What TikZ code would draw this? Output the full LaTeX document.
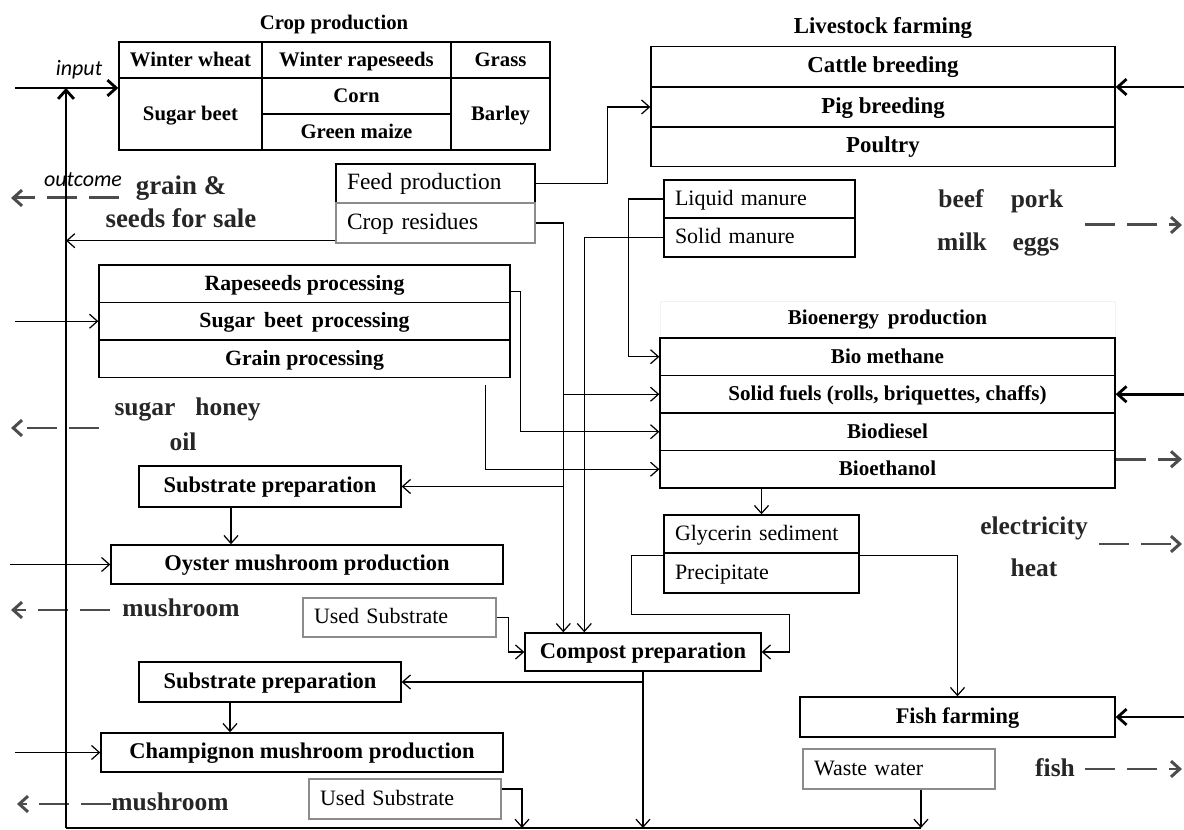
\documentclass[tikz,border=0pt]{standalone}
\usepackage{fontspec}
\setmainfont{Liberation Serif}
\newfontfamily\calibfont{Carlito}
\usepackage{tikz}
\usetikzlibrary{arrows.meta,positioning,calc}
\tikzstyle{cell} = [rectangle, draw=black, line width=0.8pt, inner sep=0pt, text height=0.76em, text depth=0.04em, text centered, font=\bfseries\fontsize{12.8}{15}\selectfont]
\tikzstyle{cropcell} = [cell, font=\bfseries\fontsize{11.8}{14}\selectfont, minimum height=0.72cm]
\tikzstyle{livecell} = [cell, font=\bfseries\fontsize{13}{15}\selectfont, minimum width=9.28cm, minimum height=0.8cm]
\tikzstyle{proccell} = [cell, font=\bfseries\fontsize{12.4}{14}\selectfont, minimum width=8.22cm, minimum height=0.75cm]
\tikzstyle{biocell} = [cell, font=\bfseries\fontsize{12}{14}\selectfont, minimum width=9.1cm, minimum height=0.75cm]
\tikzstyle{subbox} = [rectangle, draw=black, line width=0.8pt, inner ysep=0pt, inner xsep=0.22cm, text height=0.76em, text depth=0.04em, align=left, font=\fontsize{12.5}{15}\selectfont]
\tikzstyle{greybox} = [subbox, draw=black!45]
\tikzstyle{headlbl} = [font=\bfseries\fontsize{11.8}{14}\selectfont]
\tikzstyle{prod} = [anchor=base, text=black!85, font=\bfseries\fontsize{14.5}{16}\selectfont, inner sep=0pt]
\tikzstyle{itl} = [font=\calibfont\itshape\fontsize{12.5}{14}\selectfont, inner sep=0pt]
\tikzstyle{arrow} = [line width=0.7pt, -{Straight Barb[length=4.5pt,width=8pt]}]
\tikzstyle{thickline} = [line width=1.6pt]
\tikzstyle{thickarrow} = [line width=1.6pt, -{Straight Barb[length=5pt,width=9pt]}]
\tikzstyle{outarrow} = [line width=1.7pt, draw=black!70, dash pattern=on 17pt off 7pt, -{Straight Barb[length=5pt,width=9pt]}]

\begin{document}
\begin{tikzpicture}[x=0.02cm, y=-0.02cm]
	\useasboundingbox (0,0) rectangle (1184,830);

	\node (croptitle) [headlbl] at (334,25) {Crop production};
	\node (wheat) [cropcell, minimum width=2.86cm] at (190.5,60) {Winter wheat};
	\node (rapes) [cropcell, minimum width=3.78cm] at (356.5,60) {Winter rapeseeds};
	\node (grass) [cropcell, minimum width=1.98cm] at (500.5,60) {Grass};
	\node (sb) [cropcell, minimum width=2.86cm, minimum height=1.44cm] at (190.5,114) {Sugar beet};
	\node (corn) [cropcell, minimum width=3.78cm] at (356.5,96) {Corn};
	\node (gm) [cropcell, minimum width=3.78cm] at (356.5,132) {Green maize};
	\node (barley) [cropcell, minimum width=1.98cm, minimum height=1.44cm] at (500.5,114) {Barley};

	\node (livetitle) [headlbl, font=\bfseries\fontsize{13}{15}\selectfont] at (883,28) {Livestock farming};
	\node (cattle) [livecell] at (883,66.5) {Cattle breeding};
	\node (pig) [livecell] at (883,107) {Pig breeding};
	\node (poultry) [livecell] at (883,146.5) {Poultry};

	\node (feed) [subbox, font=\fontsize{13.3}{15}\selectfont, text width=3.54cm, minimum height=0.78cm] at (435.5,183.5) {Feed production};
	\node (res) [greybox, font=\fontsize{13.3}{15}\selectfont, text width=3.54cm, minimum height=0.8cm] at (435.5,223) {Crop residues};
	\node (liq) [subbox, text width=3.38cm, minimum height=0.76cm] at (759.5,199) {Liquid manure};
	\node (solm) [subbox, text width=3.38cm, minimum height=0.78cm] at (759.5,237.5) {Solid manure};

	\node (rape) [proccell] at (304.5,283.75) {Rapeseeds processing};
	\node (sugp) [proccell] at (304.5,321.25) {Sugar\, beet\, processing};
	\node (grain) [proccell] at (304.5,358.75) {Grain processing};

	\node (biotitle) [headlbl, draw=black!5, minimum width=9.1cm, minimum height=0.74cm, font=\bfseries\fontsize{12}{14}\selectfont] at (887.5,319.5) {Bioenergy\, production};
	\node (meth) [biocell] at (887.5,356.75) {Bio methane};
	\node (fuel) [biocell] at (887.5,394.25) {Solid fuels (rolls, briquettes, chaffs)};
	\node (diesel) [biocell] at (887.5,431.75) {Biodiesel};
	\node (eth) [biocell] at (887.5,469.25) {Bioethanol};

	\node (gly) [subbox, text width=3.46cm, minimum height=0.76cm] at (761.5,534) {Glycerin sediment};
	\node (prec) [subbox, text width=3.46cm, minimum height=0.8cm] at (761.5,573) {Precipitate};

	\node (sub1) [cell, minimum width=5.24cm, minimum height=0.82cm] at (270,486.5) {Substrate preparation};
	\node (oyster) [cell, minimum width=7.84cm, minimum height=0.78cm] at (307,564.5) {Oyster mushroom production};
	\node (us1) [greybox, text width=3.42cm, minimum height=0.78cm] at (399.5,617.5) {Used Substrate};
	\node (comp) [cell, minimum width=4.72cm, minimum height=0.76cm] at (643,652) {Compost preparation};
	\node (sub2) [cell, minimum width=5.24cm, minimum height=0.8cm] at (270,682) {Substrate preparation};
	\node (champ) [cell, minimum width=8.04cm, minimum height=0.78cm] at (302,752.5) {Champignon mushroom production};
	\node (us2) [greybox, text width=3.4cm, minimum height=0.8cm] at (405,799) {Used Substrate};

	\node (fish) [cell, font=\bfseries\fontsize{12.7}{15}\selectfont, minimum width=6.3cm, minimum height=0.8cm] at (957.5,717) {Fish farming};
	\node (waste) [greybox, text width=3.4cm, minimum height=0.8cm] at (899,769) {Waste water};

	\node (inlab) [itl] at (79,70) {input};
	\node (outlab) [itl] at (83,180) {outcome};
	\node (grainlab) [prod, font=\bfseries\fontsize{15.3}{17}\selectfont] at (181,195) {grain \&};
	\node (seeds) [prod, font=\bfseries\fontsize{15.3}{17}\selectfont] at (181,228) {seeds for sale};
	\node (beef) [prod] at (961,208) {beef};
	\node (pork) [prod] at (1037,208) {pork};
	\node (milk) [prod] at (962,251) {milk};
	\node (eggs) [prod] at (1036,251) {eggs};
	\node (sugar) [prod] at (145,416) {sugar};
	\node (honey) [prod] at (228,416) {honey};
	\node (oil) [prod] at (183,451) {oil};
	\node (mush1) [prod] at (181,617) {mushroom};
	\node (mush2) [prod] at (170,811) {mushroom};
	\node (elec) [prod] at (1034,535) {electricity};
	\node (heat) [prod] at (1034,577) {heat};
	\node (fishlab) [prod] at (1055,777) {fish};

	\coordinate (inA) at (15,88);
	\coordinate (loopB) at (66,828);
	\coordinate (loopE) at (921,828);
	\coordinate (inP) at (15,321.25);
	\coordinate (inO) at (10,564.5);
	\coordinate (inC) at (15,752.5);
	\coordinate (inL) at (1184,87);
	\coordinate (inF) at (1184,394.25);
	\coordinate (inFi) at (1184,717);

	\draw [outarrow] (119,198) coordinate (oG) -- (11,198) coordinate (oGe);
	\draw [outarrow] (99,428) coordinate (oS) -- (11,428) coordinate (oSe);
	\draw [outarrow] (110,610) coordinate (oM) -- (11,610) coordinate (oMe);
	\draw [outarrow] (111,804) coordinate (oN) -- (17,804) coordinate (oNe);
	\draw [outarrow] (1085,225) coordinate (oB) -- (1182,225) coordinate (oBe);
	\draw [outarrow] ([yshift=0.2cm]eth.east) coordinate (oE) -- (oE -| oBe);
	\draw [outarrow] (1099,544) coordinate (oL) -- (1182,544) coordinate (oLe);
	\draw [outarrow] (1085,769) coordinate (oF) -- (1182,769) coordinate (oFe);

	\draw [thickarrow] (inA) -- (inA -| sb.west);
	\draw [thickline] (loopE) -- (loopB);
	\draw [thickarrow] (loopB) -- (loopB |- inA);
	\draw [thickarrow] (inL) -- (inL -| cattle.east);
	\draw [thickarrow] (inF) -- (fuel.east);
	\draw [thickarrow] (inFi) -- (fish.east);

	\draw [arrow] (inP) -- (sugp.west);
	\draw [arrow] (inO) -- (oyster.west);
	\draw [arrow] (inC) -- (champ.west);

	\coordinate (resL) at ([yshift=0.06cm]res.south west);
	\draw [arrow] (resL) -- (resL -| loopB);
	\draw [arrow] (feed.east) -- ++(72,0) |- (pig.west);

	\coordinate (vr) at ([xshift=0.78cm]comp.north west);
	\coordinate (vs) at ([xshift=1.2cm]comp.north west);
	\draw [arrow] (res.east) -| (vr);
	\draw [arrow] (vr |- fuel.west) -- (fuel.west);
	\draw [arrow] (vr |- sub1.east) -- (sub1.east);
	\draw [arrow] (solm.west) -| (vs);
	\draw [arrow] (liq.west) -- ++(-35,0) |- (meth.west);

	\coordinate (rapeR) at ([yshift=-0.15cm]rape.east);
	\draw [arrow] (rapeR) -- ++(10,0) |- (diesel.west);
	\coordinate (grainB) at ([xshift=-0.5cm,yshift=-0.14cm]grain.south east);
	\draw [arrow] (grainB) |- (eth.west);

	\draw [arrow] (gly.north |- eth.south) -- (gly.north);
	\coordinate (precL) at ([yshift=-0.06cm]prec.north west);
	\coordinate (precR) at ([yshift=-0.06cm]prec.north east);
	\draw [arrow] (precL) -- ++(-32,0) -- ++(0,59) -| ([xshift=0.56cm]comp.east) -- (comp.east);
	\draw [arrow] (precR) -| (fish.north);

	\draw [arrow] (us1.east) -- ++(12,0) |- (comp.west);
	\draw [arrow] (comp.south) |- (sub2.east);
	\draw [arrow] (comp.south) -- (comp.south |- loopB);

	\coordinate (sub1B) at ([xshift=-0.78cm]sub1.south);
	\coordinate (sub2B) at ([xshift=-0.8cm]sub2.south);
	\draw [arrow] (sub1B) -- (sub1B |- oyster.north);
	\draw [arrow] (sub2B) -- (sub2B |- champ.north);

	\coordinate (us2R) at ([yshift=0.2cm]us2.east);
	\coordinate (us2D) at (522,828);
	\draw [arrow] (us2R) -| (us2D);
	\draw [arrow] (loopE |- waste.south) -- (loopE);
\end{tikzpicture}
\end{document}
